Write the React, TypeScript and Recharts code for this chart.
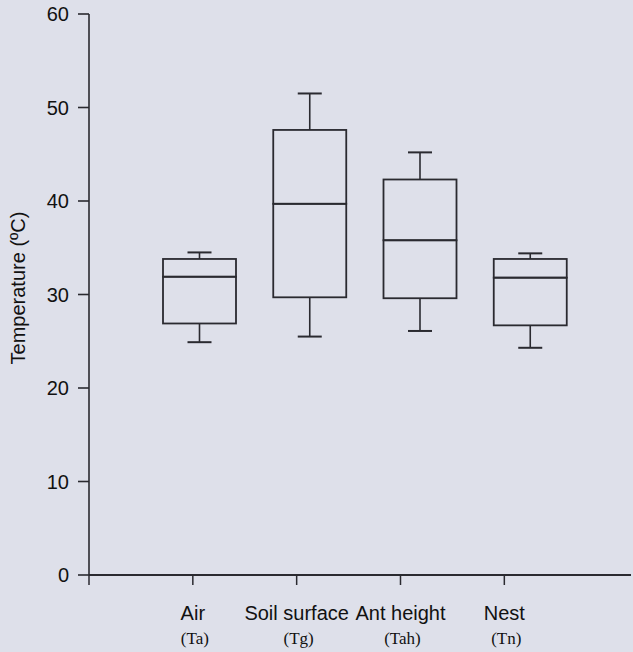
import { ComposedChart, Bar, XAxis, YAxis } from 'recharts'

// readings (degrees C)
const categories = ['Air', 'Soil surface', 'Ant height', 'Nest']
const codes = ['(Ta)', '(Tg)', '(Tah)', '(Tn)']
const whiskerLow = [24.9, 25.5, 26.1, 24.3]
const q1 = [26.9, 29.7, 29.6, 26.7]
const median = [31.9, 39.7, 35.8, 31.8]
const q3 = [33.8, 47.6, 42.3, 33.8]
const whiskerHigh = [34.5, 51.5, 45.2, 34.4]
const yTicks = [0, 10, 20, 30, 40, 50, 60]
const xTicks = [0, 1, 2, 3, 4]

const INK = '#2a2a30'
const SANS = '"Liberation Sans", Arial, Helvetica, sans-serif'
const SERIF = '"Liberation Serif", "Times New Roman", serif'

// stacked pieces for the box plot
const data = categories.map((name, i) => ({
  name,
  pos: i + 1,
  base: whiskerLow[i],
  lowW: q1[i] - whiskerLow[i],
  boxLow: median[i] - q1[i],
  boxHigh: q3[i] - median[i],
  highW: whiskerHigh[i] - q3[i],
}))

const CAP = 24

function Blank() {
  return null
}

function LowWhisker(props: any) {
  const { x, y, width, height } = props
  const cx = x + width / 2
  const yb = y + height
  return (
    <g stroke={INK} strokeWidth={1.6}>
      <line x1={cx} y1={y} x2={cx} y2={yb} />
      <line x1={cx - CAP / 2} y1={yb} x2={cx + CAP / 2} y2={yb} strokeWidth={2} />
    </g>
  )
}

function HighWhisker(props: any) {
  const { x, y, width, height } = props
  const cx = x + width / 2
  return (
    <g stroke={INK} strokeWidth={1.6}>
      <line x1={cx} y1={y} x2={cx} y2={y + height} />
      <line x1={cx - CAP / 2} y1={y} x2={cx + CAP / 2} y2={y} strokeWidth={2} />
    </g>
  )
}

function BoxPart(props: any) {
  const { x, y, width, height } = props
  return <rect x={x} y={y} width={width} height={height} fill="none" stroke={INK} strokeWidth={1.8} />
}

function CategoryTick(props: any) {
  const { x, y, payload } = props
  const i = payload.value - 1
  if (i < 0 || i >= categories.length) return null
  return (
    <g>
      <text x={x} y={y + 35} textAnchor="middle" fontFamily={SANS} fontSize={20} fill="#111">
        {categories[i]}
      </text>
      <text x={x + 2} y={y + 59} textAnchor="middle" fontFamily={SERIF} fontSize={17} fill="#111">
        {codes[i]}
      </text>
    </g>
  )
}

function YLabel() {
  return (
    <text
      transform="translate(25,288) rotate(-90)"
      textAnchor="middle"
      fontFamily={SANS}
      fontSize={20}
      fill="#111"
    >
      Temperature (ºC)
    </text>
  )
}

export default function App() {
  return (
    <div style={{ position: 'absolute', left: 0, top: 0, width: 633, height: 652, background: '#dee0ea' }}>
      <ComposedChart
        width={633}
        height={652}
        data={data}
        margin={{ top: 14, right: 2, bottom: 0, left: 0 }}
      >
        <XAxis
          xAxisId="b"
          dataKey="name"
          type="category"
          hide
          height={0}
          padding={{ left: 55, right: 46 }}
        />
        <XAxis
          xAxisId="t"
          dataKey="pos"
          type="number"
          domain={[0, 5.22]}
          ticks={xTicks}
          interval={0}
          height={77}
          tickSize={10}
          tickMargin={0}
          axisLine={{ stroke: INK, strokeWidth: 2 }}
          tickLine={{ stroke: INK, strokeWidth: 1.5 }}
          tick={<CategoryTick />}
        />
        <YAxis
          domain={[0, 60]}
          ticks={yTicks}
          width={89}
          tickSize={11}
          tickMargin={9}
          axisLine={{ stroke: INK, strokeWidth: 1.6 }}
          tickLine={{ stroke: INK, strokeWidth: 1.6 }}
          tick={{ fill: '#111', fontSize: 20, fontFamily: SANS }}
          label={{ content: <YLabel /> }}
        />
        <Bar xAxisId="b" dataKey="base" stackId="s" barSize={73} shape={<Blank />} isAnimationActive={false} />
        <Bar xAxisId="b" dataKey="lowW" stackId="s" barSize={73} shape={<LowWhisker />} isAnimationActive={false} />
        <Bar xAxisId="b" dataKey="boxLow" stackId="s" barSize={73} shape={<BoxPart />} isAnimationActive={false} />
        <Bar xAxisId="b" dataKey="boxHigh" stackId="s" barSize={73} shape={<BoxPart />} isAnimationActive={false} />
        <Bar xAxisId="b" dataKey="highW" stackId="s" barSize={73} shape={<HighWhisker />} isAnimationActive={false} />
      </ComposedChart>
    </div>
  )
}
